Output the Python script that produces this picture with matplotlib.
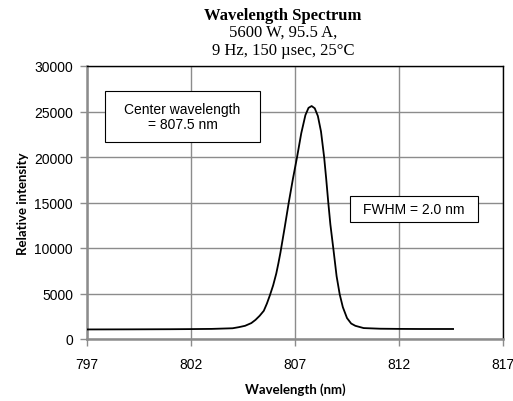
import matplotlib
matplotlib.use("Agg")
import matplotlib.pyplot as plt
from matplotlib.patches import Rectangle

wavelength = [797, 799, 801, 802, 803, 804.0, 804.3, 804.6, 804.9, 805.1, 805.3, 805.5,
              805.65, 805.8, 805.95, 806.1, 806.2, 806.3, 806.5, 806.7, 806.9, 807.1,
              807.3, 807.5, 807.65, 807.8, 807.95, 808.1, 808.25, 808.4, 808.5, 808.6,
              808.7, 808.85, 809.0, 809.15, 809.3, 809.5, 809.7, 809.9, 810.3, 811.1,
              812, 813, 814.6]
intensity = [1050, 1060, 1075, 1090, 1110, 1180, 1300, 1450, 1750, 2100, 2550, 3100,
             3900, 4850, 5900, 7200, 8300, 9500, 12200, 15000, 17600, 20000,
             22600, 24600, 25400, 25600, 25350, 24500, 22800, 20000, 17600, 15000,
             12600, 9800, 6900, 4900, 3500, 2300, 1700, 1450, 1200, 1130,
             1110, 1100, 1100]

xticks = [797, 802, 807, 812, 817]
yticks = [0, 5000, 10000, 15000, 20000, 25000, 30000]

title_lines = ["Wavelength Spectrum", "5600 W, 95.5 A,", "9 Hz, 150 \u00b5sec, 25\u00b0C"]
xlabel = "Wavelength (nm)"
ylabel = "Relative intensity"
box1 = "Center wavelength\n= 807.5 nm"
box2 = "FWHM = 2.0 nm"

W, H = 513, 402
fig = plt.figure(figsize=(W / 100, H / 100), dpi=100)
ax = fig.add_axes([87 / W, 1 - 340 / H, (503 - 87) / W, (340 - 67) / H])

ax.plot(wavelength, intensity, color="black", lw=1.3, zorder=3,
        solid_joinstyle="round")
ax.set_xlim(797, 817)
ax.set_ylim(0, 30000)
ax.set_xticks(xticks)
ax.set_yticks(yticks)
ax.grid(True, color="#8c8c8c", lw=1.0)
ax.set_axisbelow(True)

for s in ["top", "right"]:
    ax.spines[s].set_color("black")
    ax.spines[s].set_linewidth(1.0)
for s in ["left", "bottom"]:
    ax.spines[s].set_color("#8c8c8c")
    ax.spines[s].set_linewidth(1.8)

ax.tick_params(axis="both", direction="out", length=5, width=1.0, color="#8c8c8c",
               labelsize=10, pad=5)
for lab in ax.get_xticklabels() + ax.get_yticklabels():
    lab.set_family("Liberation Sans")
ax.tick_params(axis="x", pad=8)

ax.set_xlabel(xlabel, family="Lato", fontweight="bold", fontsize=9.5, labelpad=8)
ax.set_ylabel(ylabel, family="Lato", fontweight="bold", fontsize=9.5, labelpad=4)

fig.text(283 / W, 1 - 16 / H, title_lines[0], family="Liberation Serif", fontweight="bold",
         fontsize=12, ha="center", va="center")
fig.text(283 / W, 1 - 33 / H, title_lines[1], family="Liberation Serif",
         fontsize=12, ha="center", va="center")
fig.text(283 / W, 1 - 51 / H, title_lines[2], family="Liberation Serif",
         fontsize=12, ha="center", va="center")

def boxed(x0, y0, x1, y1, text):
    r = Rectangle((x0 / W, 1 - y1 / H), (x1 - x0) / W, (y1 - y0) / H, transform=fig.transFigure,
                  fc="white", ec="black", lw=0.8, zorder=5)
    fig.patches.append(r)
    fig.text((x0 + x1) / 2 / W, 1 - (y0 + y1) / 2 / H, text, family="Liberation Sans",
             fontsize=10, ha="center", va="center", linespacing=1.15, zorder=6)

boxed(105, 92, 260, 143, box1)
boxed(350, 197, 478, 223, box2)

fig.savefig("out.png", dpi=100)
